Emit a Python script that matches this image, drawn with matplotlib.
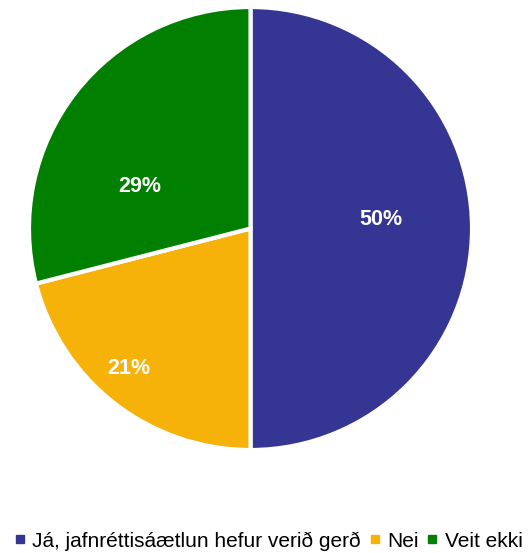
import matplotlib.pyplot as plt
from matplotlib.lines import Line2D

# data
labels = ["Já, jafnréttisáætlun hefur verið gerð", "Nei", "Veit ekki"]
values = [50, 21, 29]
colors = ["#353594", "#F7B20A", "#007F00"]

# label offsets inside the slices (axes units, radius = 1)
label_pos = [(0.59, 0.04), (-0.55, -0.63), (-0.50, 0.19)]

plt.rcParams["font.family"] = ["Liberation Sans", "DejaVu Sans"]

fig = plt.figure(figsize=(5.32, 5.53), dpi=100)
ax = fig.add_axes([29 / 532, (553 - 450) / 553, 443 / 532, 443 / 553])

wedges, _ = ax.pie(values, colors=colors, startangle=90, counterclock=False,
                   radius=1, wedgeprops=dict(edgecolor="white", linewidth=3))
for v, (x, y) in zip(values, label_pos):
    ax.text(x, y, f"{v}%", color="white", fontsize=15.5, fontweight="bold",
            ha="center", va="center")
ax.set_xlim(-1.0, 1.0)
ax.set_ylim(-1.0, 1.0)
ax.set_aspect("equal")
ax.axis("off")

handles = [Line2D([], [], marker="s", linestyle="", color=c, markersize=5.5)
           for c in colors]
fig.legend(handles, labels, loc="center", bbox_to_anchor=(0.505, 1 - 541 / 553),
           ncol=3, frameon=False, fontsize=15, handlelength=0.5,
           handletextpad=0.35, columnspacing=0.4, borderaxespad=0)

fig.savefig("out.png", dpi=100, facecolor="white")
